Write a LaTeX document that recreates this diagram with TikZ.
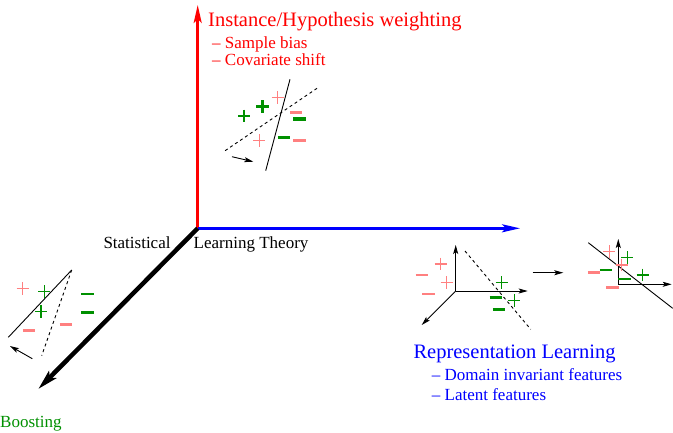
\documentclass[tikz,border=0pt]{standalone}
\usepackage{fontspec}
\setmainfont{Liberation Serif}
\usetikzlibrary{arrows.meta}
\definecolor{xpink}{RGB}{255,128,128}
\definecolor{xgreen}{RGB}{0,144,0}
\tikzset{
  lbl/.style={anchor=base west,inner sep=0pt,font=\fontsize{17}{20}\selectfont},
  head/.style={anchor=base west,inner sep=0pt,font=\fontsize{20.5}{24}\selectfont},
  bigaxis/.style={-{Stealth[length=18pt,width=8pt,inset=4pt]},line width=2.5pt},
  smallarr/.style={-{Stealth[length=9pt,width=5pt,inset=2pt]},line width=0.9pt},
  sep/.style={line width=0.9pt},
  sepdash/.style={line width=0.9pt,dash pattern=on 3pt off 3pt},
  plus/.pic={\draw[line width=1.2pt] (-6,0)--(6,0) (0,-6.3)--(0,6.3);},
  bplus/.pic={\draw[line width=3pt] (-6.3,0)--(6.3,0) (0,-6.3)--(0,6.3);},
  minus/.pic={\draw[line width=2.6pt] (-6.2,0)--(6.2,0);},
  bminus/.pic={\draw[line width=3.8pt] (-6.2,0)--(6.2,0);},
}
\begin{document}
\begin{tikzpicture}[x=1pt,y=-1pt]
\useasboundingbox (0,0) rectangle (673,432);
% main axes
\coordinate (O) at (197.7,228.3);
\coordinate (Ytip) at (197.7,5);
\coordinate (Xtip) at (520,228.3);
\coordinate (Ztip) at (38.3,389);
\draw[bigaxis,red] (O) -- (Ytip);
\draw[bigaxis,blue] (O) -- (Xtip);
\draw[-{Stealth[length=20pt,width=10pt,inset=4pt]},line width=4.5pt] (O) -- (Ztip);
% labels
\node[head,text=red] (inst) at (208,26.7) {Instance/Hypothesis weighting};
\node[lbl,text=red] (sb) at (212,48.3) {– Sample bias};
\node[lbl,text=red] (cs) at (212,65) {– Covariate shift};
\node[lbl] (stat) at (103.3,248.3) {Statistical};
\node[lbl] (lt) at (193.5,248.3) {Learning Theory};
\node[head,text=blue] (rl) at (413.3,358.3) {Representation Learning};
\node[lbl,text=blue] (dif) at (431.7,380) {– Domain invariant features};
\node[lbl,text=blue] (lf) at (431.7,400) {– Latent features};
\node[lbl,text=xgreen] (boost) at (0,427) {Boosting};
% top small diagram (instance weighting)
\coordinate (t1) at (290,79.3); \coordinate (t2) at (265.7,170.7);
\coordinate (t3) at (317,88.3); \coordinate (t4) at (222.7,152.3);
\coordinate (t5) at (232,156.7); \coordinate (t6) at (253.3,161.7);
\draw[sep] (t1) -- (t2);
\draw[sepdash] (t3) -- (t4);
\draw[smallarr] (t5) -- (t6);
\pic[color=xgreen] at (244,116) {plus};
\pic[color=xgreen] at (262.3,106.7) {bplus};
\pic[color=xpink] at (277.7,97.3) {plus};
\pic[color=xpink] at (259.3,140.7) {plus};
\pic[color=xpink] at (296,112.7) {minus};
\pic[color=xgreen] at (299.3,119.3) {bminus};
\pic[color=xgreen] at (284,137.7) {minus};
\pic[color=xpink] at (299.3,140.3) {minus};
% left small diagram (boosting)
\coordinate (b1) at (8.3,337.3); \coordinate (b2) at (71.7,270);
\coordinate (b3) at (41.7,355.7);
\coordinate (b4) at (32.3,358.7); \coordinate (b5) at (10,346);
\draw[sep] (b1) -- (b2);
\draw[sepdash] (b2) -- (b3);
\draw[smallarr] (b4) -- (b5);
\pic[color=xpink] at (22.7,288.3) {plus};
\pic[color=xgreen] at (44.3,291.7) {plus};
\pic[color=xgreen] at (41,311.7) {plus};
\pic[color=xgreen] at (87.3,294) {minus};
\pic[color=xgreen] at (87.3,312.3) {minus};
\pic[color=xpink] at (29,330.7) {minus};
\pic[color=xpink] at (65.7,324.3) {minus};
% representation learning: first small axes
\coordinate (r0) at (455.7,291);
\coordinate (ru) at (455.7,245);
\coordinate (rr) at (527.7,291);
\coordinate (rd) at (421.7,325);
\coordinate (rs1) at (465,251); \coordinate (rs2) at (530.7,329.3);
\draw[smallarr] (r0) -- (ru);
\draw[smallarr] (r0) -- (rr);
\draw[smallarr] (r0) -- (rd);
\draw[sepdash] (rs1) -- (rs2);
\pic[color=xpink] at (440.7,264) {plus};
\pic[color=xpink] at (421.7,275) {minus};
\pic[color=xpink] at (446.7,282.3) {plus};
\pic[color=xpink] at (428.3,294) {minus};
\pic[color=xgreen] at (501.7,282.3) {plus};
\pic[color=xgreen] at (495.7,297.3) {minus};
\pic[color=xgreen] at (514.3,300.7) {plus};
\pic[color=xgreen] at (499,309.3) {minus};
% transformation arrow
\coordinate (m1) at (532.7,272.7); \coordinate (m2) at (563.3,272.7);
\draw[smallarr] (m1) -- (m2);
% second small axes
\coordinate (q0) at (618.3,284.3);
\coordinate (qu) at (618.3,239);
\coordinate (qr) at (671.7,284.3);
\coordinate (qs1) at (588.3,242.7); \coordinate (qs2) at (672.7,308.3);
\draw[smallarr] (q0) -- (qu);
\draw[smallarr] (q0) -- (qr);
\draw[sep] (qs1) -- (qs2);
\pic[color=xpink] at (609.3,251.7) {plus};
\pic[color=xgreen] at (627.3,257.3) {plus};
\pic[color=xpink] at (621.7,265) {plus};
\pic[color=xgreen] at (606,270) {minus};
\pic[color=xpink] at (594,272.3) {minus};
\pic[color=xgreen] at (624.3,279) {minus};
\pic[color=xgreen] at (642.7,275) {plus};
\pic[color=xpink] at (612.3,287.7) {minus};
\end{tikzpicture}
\end{document}
